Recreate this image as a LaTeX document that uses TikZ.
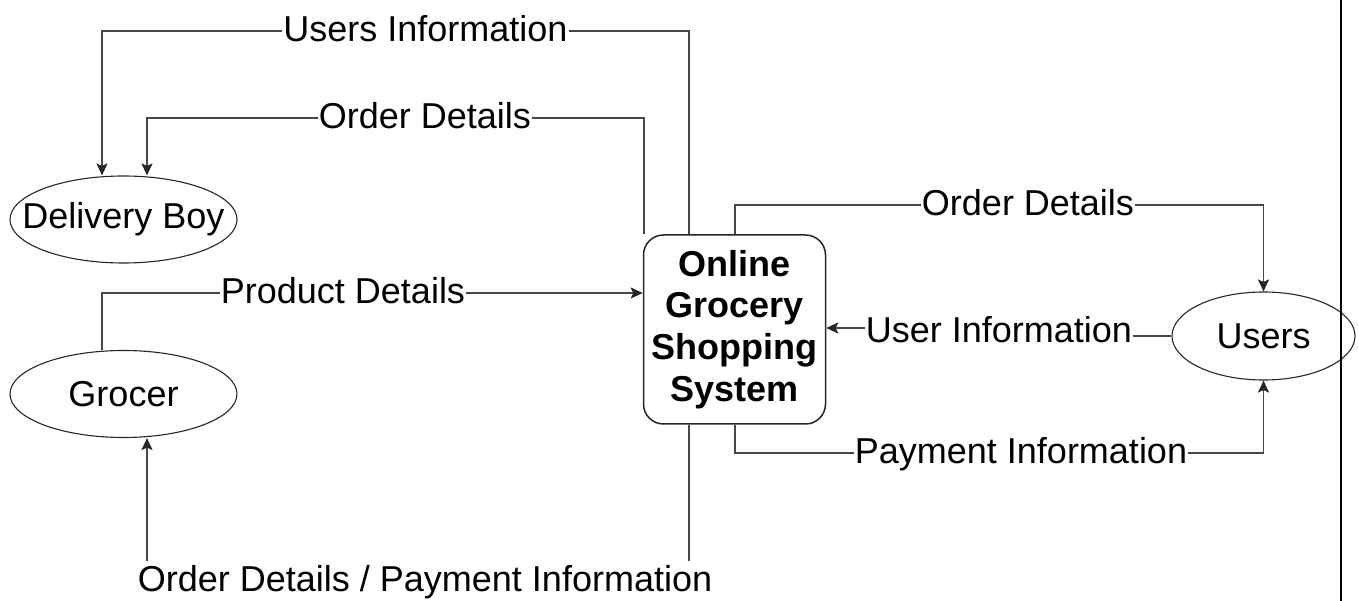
\documentclass[tikz,border=0pt]{standalone}
\usepackage{fontspec}
\setmainfont{Liberation Sans}
\usetikzlibrary{shapes.geometric,arrows.meta}
\begin{document}
\begin{tikzpicture}[x=1pt,y=-1pt,
  ent/.style={ellipse, draw=black!85, line width=1.1pt, minimum width=227pt, minimum height=87pt, inner sep=0pt},
  enttext/.style={font=\fontsize{36}{42}\selectfont, inner sep=0pt},
  sysbox/.style={rectangle, rounded corners=20pt, draw=black!85, line width=1.5pt, minimum width=182pt, minimum height=189pt, inner sep=0pt, align=center, font=\bfseries\fontsize{36}{41.7}\selectfont},
  flow/.style={draw=black!72, line width=1.8pt, -{Stealth[length=12pt,width=11pt,inset=2.5pt,color=black!85,fill=black!85]}},
  lbl/.style={fill=white, anchor=base, inner xsep=1pt, inner ysep=0pt, text height=30pt, text depth=8pt, font=\fontsize{36}{42}\selectfont}
]
\useasboundingbox (0,0) rectangle (1358,601);

% entities
\node[ent, label={[enttext]center:Delivery Boy}] (dboy) at (123.5,219.5) {};
\node[ent, label={[enttext]center:Grocer}] (grocer) at (123.5,394) {};
\node[ent, minimum width=183pt, minimum height=88pt, label={[enttext]center:Users}] (users) at (1263.5,336) {};
\node[sysbox] (sys) at (734.5,329.5) {Online\\Grocery\\Shopping\\System};

% helper coordinates
\coordinate (ux) at (689,0);
\coordinate (lx) at (644,0);
\coordinate (rx) at (735,0);
\coordinate (dx) at (102,0);
\coordinate (ox) at (147,0);
\coordinate (py) at (0,293);
\coordinate (uy) at (0,328);

% connectors
\draw[flow] (sys.north -| ux) -- (689,31) -| (dboy.north -| dx);
\draw[flow] (sys.north -| lx) -- (644,118) -| (dboy.north -| ox);
\draw[flow] (grocer.north -| dx) -- (102,293) -- (sys.west |- py);
\draw[flow] (sys.south -| ux) -- (689,580) -| (grocer.south -| ox);
\draw[flow] (sys.north -| rx) -- (735,205) -| (users.north);
\draw[flow] (sys.south -| rx) -- (735,452.7) -| (users.south);
\draw[flow] (users.west) -- (999,336) -- (999,328) -- (sys.east |- uy);

% labels
\node[lbl] (l1) at (425.5,42) {Users Information};
\node[lbl] (l2) at (425,129) {Order Details};
\node[lbl] (l3) at (343,304) {Product Details};
\node[lbl] (l4) at (425,591) {Order Details / Payment Information};
\node[lbl] (l5) at (1028,216) {Order Details};
\node[lbl] (l6) at (1021,463.7) {Payment Information};
\node[lbl] (l7) at (999,343) {User Information};

% right border line
\coordinate (bt) at (1341,0);
\coordinate (bb) at (1341,601);
\draw[line width=1.6pt, black] (bt) -- (bb);
\end{tikzpicture}
\end{document}
